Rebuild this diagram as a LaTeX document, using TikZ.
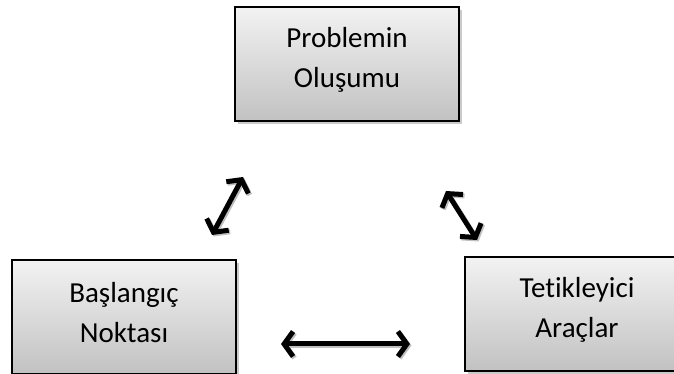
\documentclass[tikz,border=0pt]{standalone}
\usepackage{fontspec}
\setmainfont{Carlito}[Ligatures={NoCommon}]
\usetikzlibrary{arrows.meta,shadows}
\begin{document}
\begin{tikzpicture}[x=1pt,y=1pt,
  box/.style={draw=black,line width=1.6pt,minimum width=224pt,minimum height=114pt,
    inner sep=0pt,top color=black!5,bottom color=black!24,
    drop shadow={shadow xshift=3pt,shadow yshift=-3pt,opacity=0.35,fill=black!60}},
  lbl/.style={align=center,font=\fontsize{29}{40}\selectfont,inner sep=0pt},
  dbl/.style={line width=5pt,{Straight Barb[length=9pt,width=25pt]}-{Straight Barb[length=9pt,width=25pt]},
    preaction={draw=black!25,line width=5pt,transform canvas={xshift=1.5pt,yshift=-1.5pt}}}]
\useasboundingbox (0,0) rectangle (674,374);
\node[box] (p) at (347,310) {};
\node[lbl] (pt) at ([yshift=4pt]p.center) {Problemin\\Oluşumu};
\node[box] (b) at (124,57) {};
\node[lbl] (bt) at ([yshift=4pt]b.center) {Başlangıç\\Noktası};
\node[box] (t) at (577,60) {};
\node[lbl] (tt) at ([yshift=4pt]t.center) {Tetikleyici\\Araçlar};
\coordinate (l1) at (212,139);
\coordinate (l2) at (243,197);
\coordinate (r1) at (446,183);
\coordinate (r2) at (477,134);
\coordinate (h1) at (281,30);
\coordinate (h2) at (410,30);
\draw[dbl] (l1) -- (l2);
\draw[dbl] (r1) -- (r2);
\draw[dbl] (h1) -- (h2);
\end{tikzpicture}
\end{document}
